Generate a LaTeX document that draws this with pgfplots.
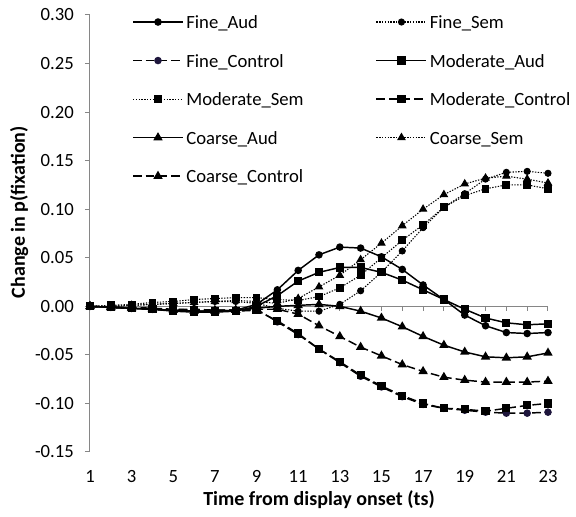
\documentclass[border=0pt]{standalone}
\usepackage{fontspec}
\setmainfont{Carlito}
\usepackage{pgfplots}
\usepackage{pgfplotstable}
\pgfplotsset{compat=1.18}

\definecolor{axgray}{RGB}{134,134,134}
\definecolor{navy}{RGB}{30,22,60}

% t, then the nine series in legend order
\pgfplotstableread{
t  FA      FS      FC      MA      MS      MC      CA      CS      CC
1  0.000   0.000   0.000   0.000   0.000   0.000   0.000   0.000   0.000
2  -0.001  0.000   -0.001  -0.001  0.001   -0.001  -0.001  0.000   -0.001
3  -0.002  0.001   -0.002  -0.002  0.002   -0.002  -0.002  0.001   -0.001
4  -0.003  0.002   -0.003  -0.003  0.004   -0.003  -0.003  0.002   -0.002
5  -0.004  0.003   -0.003  -0.005  0.005   -0.004  -0.004  0.003   -0.003
6  -0.005  0.004   -0.004  -0.006  0.007   -0.004  -0.005  0.004   -0.003
7  -0.005  0.005   -0.004  -0.006  0.008   -0.005  -0.005  0.005   -0.004
8  -0.004  0.005   -0.004  -0.005  0.009   -0.005  -0.004  0.006   -0.004
9  0.002   0.003   -0.003  0.000   0.009   -0.004  -0.002  0.005   -0.003
10 0.017   -0.002  -0.016  0.011   0.007   -0.015  0.000   0.003   -0.003
11 0.037   -0.005  -0.029  0.026   0.006   -0.028  0.001   0.008   -0.008
12 0.053   -0.005  -0.044  0.035   0.010   -0.044  0.002   0.020   -0.020
13 0.061   0.002   -0.058  0.040   0.019   -0.057  0.000   0.032   -0.031
14 0.060   0.016   -0.072  0.040   0.032   -0.071  -0.005  0.048   -0.042
15 0.051   0.035   -0.083  0.035   0.050   -0.082  -0.012  0.065   -0.051
16 0.038   0.057   -0.093  0.027   0.068   -0.092  -0.021  0.083   -0.060
17 0.022   0.081   -0.101  0.017   0.084   -0.100  -0.031  0.100   -0.067
18 0.007   0.102   -0.105  0.007   0.102   -0.105  -0.040  0.115   -0.073
19 -0.009  0.116   -0.107  -0.003  0.114   -0.106  -0.047  0.126   -0.076
20 -0.020  0.131   -0.109  -0.012  0.121   -0.108  -0.052  0.132   -0.078
21 -0.027  0.138   -0.110  -0.017  0.125   -0.105  -0.053  0.134   -0.078
22 -0.028  0.139   -0.110  -0.019  0.125   -0.102  -0.052  0.131   -0.078
23 -0.027  0.137   -0.109  -0.018  0.121   -0.100  -0.048  0.127   -0.077
}\data

\newcommand{\legtext}[1]{\makebox[140pt][l]{\strut #1}}

\begin{document}
\fontsize{14pt}{17pt}\selectfont
\begin{tikzpicture}
\path[use as bounding box] (0,0) rectangle (432pt,387.75pt);
\begin{axis}[
  at={(67.5pt,48.75pt)}, anchor=south west,
  scale only axis, width=343.5pt, height=327.75pt,
  clip=false,
  xmin=1, xmax=23, ymin=-0.15, ymax=0.30,
  axis y line*=left, axis x line*=bottom,
  x axis line style={draw=none},
  y axis line style={draw=axgray, line width=0.75pt},
  xtick={1,3,...,23},
  xticklabels={1,3,5,7,9,11,13,15,17,19,21,23},
  xtick style={draw=none},
  xticklabel style={yshift=-5pt},
  ytick={-0.15,-0.10,-0.05,0,0.05,0.10,0.15,0.20,0.25,0.30},
  yticklabels={-0.15,-0.10,-0.05,0.00,0.05,0.10,0.15,0.20,0.25,0.30},
  yticklabel style={xshift=-3.5pt},
  ytick style={draw=axgray, line width=0.75pt},
  tick align=outside, major tick length=3.75pt,
  ticklabel style={font=\fontsize{14pt}{17pt}\selectfont},
  xlabel={\bfseries Time from display onset (ts)},
  ylabel={\bfseries Change in p(fixation)},
  xlabel style={font=\fontsize{15pt}{18pt}\selectfont, yshift=3pt},
  ylabel style={font=\fontsize{15pt}{18pt}\selectfont, at={(ticklabel cs:0.549)}, yshift=-4.5pt},
  legend columns=2,
  legend style={draw=none, fill=none, at={(rel axis cs:0.0917,1.012)}, anchor=north west,
    inner sep=0pt, nodes={inner sep=2pt}, cells={anchor=west}, row sep=10.9pt,
    font=\fontsize{14pt}{17pt}\selectfont},
  legend image code/.code={\draw[mark repeat=2, mark phase=2, #1] plot coordinates {(0pt,0pt)(18.75pt,0pt)(37.5pt,0pt)};},
  every axis plot/.append style={black},
  aud/.style={solid, line width=1.1pt},
  sem/.style={line width=0.8pt, dash pattern=on 1pt off 1.1pt},
  ctl/.style={line width=1.1pt, dash pattern=on 6.5pt off 3pt},
  mc/.style={mark=*, mark size=2.25pt, mark options={solid, fill=black}},
  ms/.style={mark=square*, mark size=2.5pt, mark options={solid, fill=black}},
  mt/.style={mark=triangle*, mark size=3pt, mark options={solid, fill=black}},
]
\draw[axgray, line width=0.75pt] (axis cs:1,0) -- (axis cs:23,0);
\pgfplotsinvokeforeach{2,...,23}{\draw[axgray, line width=0.75pt] (axis cs:#1,0) -- ++(0pt,-3.75pt);}

\addplot[aud, mc] table[x=t, y=FA] {\data};
\addlegendentry{\legtext{Fine\_Aud}}
\addplot[sem, mc] table[x=t, y=FS] {\data};
\addlegendentry{\legtext{Fine\_Sem}}
\addplot[ctl, mark=*, mark size=2.25pt, mark options={solid, fill=navy, draw=navy}] table[x=t, y=FC] {\data};
\addlegendentry{\legtext{Fine\_Control}}
\addplot[aud, ms] table[x=t, y=MA] {\data};
\addlegendentry{\legtext{Moderate\_Aud}}
\addplot[sem, ms] table[x=t, y=MS] {\data};
\addlegendentry{\legtext{Moderate\_Sem}}
\addplot[ctl, ms] table[x=t, y=MC] {\data};
\addlegendentry{\legtext{Moderate\_Control}}
\addplot[aud, mt] table[x=t, y=CA] {\data};
\addlegendentry{\legtext{Coarse\_Aud}}
\addplot[sem, mt] table[x=t, y=CS] {\data};
\addlegendentry{\legtext{Coarse\_Sem}}
\addplot[ctl, mt] table[x=t, y=CC] {\data};
\addlegendentry{\legtext{Coarse\_Control}}
\end{axis}
\end{tikzpicture}
\end{document}
